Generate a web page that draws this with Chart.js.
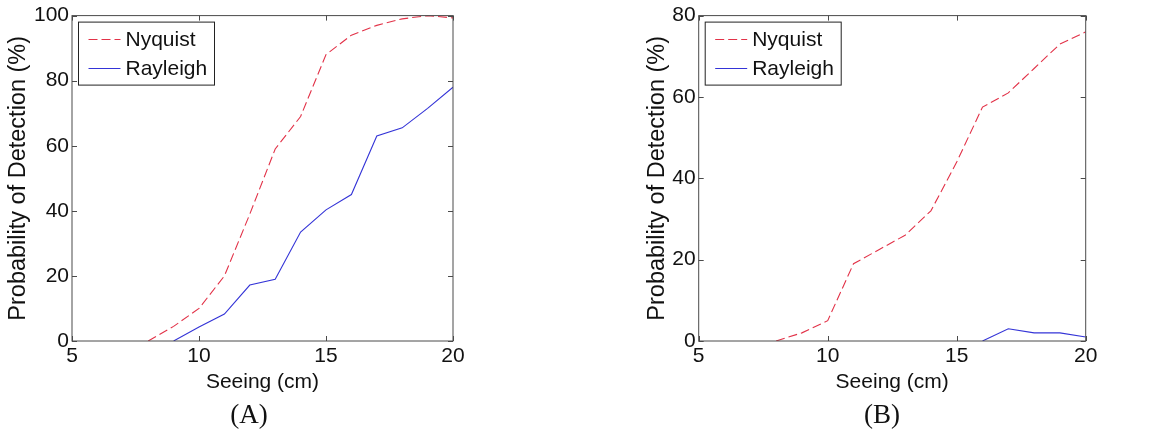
<!DOCTYPE html>
<html>
<head>
<meta charset="utf-8">
<script src="https://cdn.jsdelivr.net/npm/chart.js@4/dist/chart.umd.min.js"></script>
<style>
  body { margin: 0; background: #fff; }
  #wrap { position: relative; width: 1161px; height: 434px; overflow: hidden; }
  .panel { position: absolute; top: 0; height: 434px; }
  .cap { position: absolute; top: 399px; font-family: "Liberation Serif", "Times New Roman", serif; font-size: 27px; color: #111; transform: translateX(-50%); }
</style>
</head>
<body>
<div id="wrap">
  <div class="panel" style="left:0;width:580px"><canvas id="chart-a"></canvas></div>
  <div class="panel" style="left:580px;width:581px"><canvas id="chart-b"></canvas></div>
  <div class="cap" style="left:249px">(A)</div>
  <div class="cap" style="left:882px">(B)</div>
</div>
<script>
// ── Data ──────────────────────────────────────────────
const seeing     = [8, 9, 10, 11, 12, 13, 14, 15, 16, 17, 18, 19, 20];
const nyquistA   = [0, 4.5, 10, 20, 39, 59, 69, 88, 94, 97, 99, 100, 99.3];
const rayleighA  = [null, 0, 4.3, 8.3, 17.2, 19, 33.5, 40.3, 45, 63, 65.5, 71.5, 78];
const nyquistB   = [0, 2, 5, 19, 22.5, 26, 32, 44, 57.5, 61, 67, 73, 76];
const rayleighB  = [null, null, null, null, null, null, null, null, 0, 3, 2, 2, 1];
const xTicks     = [5, 10, 15, 20];
const yTicksA    = [0, 20, 40, 60, 80, 100];
const yTicksB    = [0, 20, 40, 60, 80];

const FONT = "'Liberation Sans', Arial, sans-serif";
const RED = "rgb(226, 50, 72)";
const BLUE = "rgb(52, 52, 215)";
const AXIS = "#4a4a4a";

Chart.defaults.font.family = FONT;
Chart.defaults.color = "#111";

const toPts = ys => seeing.map((x, i) => ({ x, y: ys[i] }));

// MATLAB-style box with inward ticks
const boxPlugin = {
  id: "box",
  afterDatasetsDraw(chart) {
    const { ctx, chartArea: a, scales } = chart;
    ctx.save();
    ctx.strokeStyle = AXIS;
    ctx.lineWidth = 1;
    ctx.strokeRect(a.left, a.top, a.right - a.left, a.bottom - a.top);
    ctx.beginPath();
    scales.x.ticks.forEach(t => {
      const px = Math.round(scales.x.getPixelForValue(t.value)) + 0.5;
      ctx.moveTo(px, a.bottom); ctx.lineTo(px, a.bottom - 5);
      ctx.moveTo(px, a.top); ctx.lineTo(px, a.top + 5);
    });
    scales.y.ticks.forEach(t => {
      const py = Math.round(scales.y.getPixelForValue(t.value)) + 0.5;
      ctx.moveTo(a.left, py); ctx.lineTo(a.left + 5, py);
      ctx.moveTo(a.right, py); ctx.lineTo(a.right - 5, py);
    });
    ctx.stroke();
    ctx.restore();
  }
};

// legend box in the top-left corner of the plot
const legendPlugin = {
  id: "boxLegend",
  afterDraw(chart) {
    const { ctx, chartArea: a } = chart;
    const x0 = a.left + 6.5, y0 = a.top + 6.5, w = 136, h = 63;
    ctx.save();
    ctx.fillStyle = "#fff";
    ctx.fillRect(x0, y0, w, h);
    ctx.strokeStyle = "#222";
    ctx.lineWidth = 1;
    ctx.strokeRect(x0, y0, w, h);
    ctx.font = "21px " + FONT;
    ctx.textBaseline = "middle";
    chart.data.datasets.forEach((ds, i) => {
      const yy = Math.round(y0 + 17 + i * 29) + 0.5;
      ctx.strokeStyle = ds.borderColor;
      ctx.setLineDash(ds.borderDash || []);
      ctx.beginPath();
      ctx.moveTo(x0 + 10, yy); ctx.lineTo(x0 + 42, yy);
      ctx.stroke();
      ctx.setLineDash([]);
      ctx.fillStyle = "#111";
      ctx.fillText(ds.label, x0 + 47, yy + 1);
    });
    ctx.restore();
  }
};

function makeChart(id, nyq, ray, yMax, yTicks, pad, yWidth) {
  return new Chart(document.getElementById(id), {
    type: "line",
    data: {
      datasets: [
        { label: "Nyquist",  data: toPts(nyq), borderColor: RED,  borderWidth: 1.1, borderDash: [9, 4], pointRadius: 0, tension: 0 },
        { label: "Rayleigh", data: toPts(ray), borderColor: BLUE, borderWidth: 1.1, pointRadius: 0, tension: 0 }
      ]
    },
    options: {
      responsive: true, maintainAspectRatio: false, animation: false,
      layout: { padding: pad },
      plugins: { legend: { display: false }, tooltip: { enabled: false } },
      scales: {
        x: {
          type: "linear", min: 5, max: 20,
          grid: { display: false, drawTicks: false }, border: { display: false },
          afterBuildTicks: s => { s.ticks = xTicks.map(v => ({ value: v })); },
          afterFit: s => { s.height = 56; },
          ticks: { font: { size: 21 }, padding: 3, color: "#111", maxRotation: 0 },
          title: { display: true, text: "Seeing (cm)", font: { size: 21 }, color: "#111", padding: { top: 0, bottom: 2 } }
        },
        y: {
          min: 0, max: yMax,
          grid: { display: false, drawTicks: false }, border: { display: false },
          afterBuildTicks: s => { s.ticks = yTicks.map(v => ({ value: v })); },
          afterFit: s => { s.width = yWidth; },
          ticks: { font: { size: 21 }, padding: 3, color: "#111" },
          title: { display: true, text: "Probability of Detection (%)", font: { size: 23.5 }, color: "#111", padding: { top: 4, bottom: 0 } }
        }
      }
    },
    plugins: [boxPlugin, legendPlugin]
  });
}

makeChart("chart-a", nyquistA, rayleighA, 100, yTicksA, { left: 0, right: 127, top: 13.3, bottom: 37 }, 72);
makeChart("chart-b", nyquistB, rayleighB, 80, yTicksB, { left: 59, right: 75.3, top: 13.3, bottom: 37 }, 59.7);
</script>
</body>
</html>
